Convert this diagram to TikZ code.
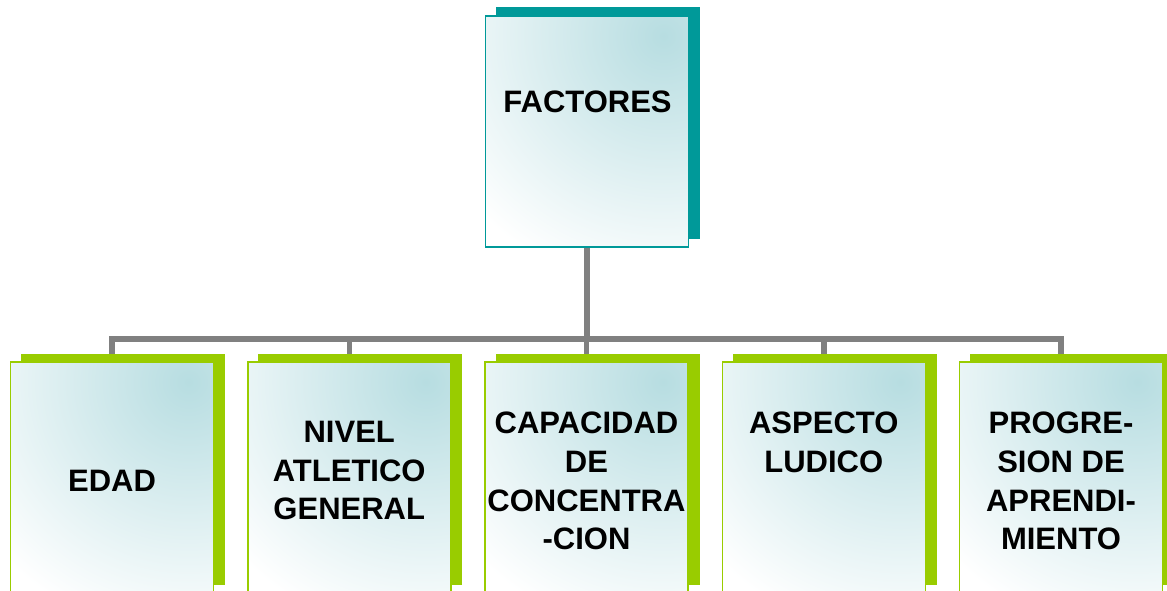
\documentclass[tikz,border=0pt]{standalone}
\usepackage{fontspec}
\setmainfont{Liberation Sans}
\usetikzlibrary{backgrounds}
\definecolor{grn}{RGB}{153,204,0}
\definecolor{tealD}{RGB}{0,153,153}
\definecolor{tealL}{RGB}{183,221,225}
\definecolor{conngray}{RGB}{128,128,128}
\tikzset{
  shadowbox/.style={rectangle, inner sep=0pt, minimum width=204pt, fill=#1},
  frontbox/.style={rectangle, inner sep=0pt, minimum width=203pt, draw=#1, line width=1.5pt,
    fill=white, path picture={
      \shade[inner color=tealL, outer color=white]
        ([xshift=-25pt,yshift=-20pt]path picture bounding box.north east) circle (255pt);}},
  boxtext/.style={inner sep=0pt, anchor=north, align=center,
    font=\fontsize{31}{38.7}\selectfont\bfseries},
  conn/.style={draw=conngray, line width=5.5pt}
}
\begin{document}
\begin{tikzpicture}[x=1pt,y=-1pt]
\useasboundingbox (0,0) rectangle (1167,590);
% top box
\node[shadowbox=tealD, minimum height=232pt] (s0) at (598,123) {};
\node[frontbox=tealD, minimum height=231pt] (top) at (587,131.5) {};
\node[boxtext] (t0) at (587.5,91) {FACTORES};
% bottom boxes
\foreach \i/\x in {1/112,2/349.25,3/586.5,4/823.75,5/1061}{
  \node[shadowbox=grn, minimum height=231pt] (s\i) at (\x+11,469.5) {};
  \node[frontbox=grn, minimum height=238pt] (b\i) at (\x,481) {};
}
\node[boxtext] (t1) at (b1.center |- 0,470) {EDAD};
\node[boxtext] (t2) at (b2.center |- 0,421) {NIVEL\\ATLETICO\\GENERAL};
\node[boxtext] (t3) at (b3.center |- 0,412) {CAPACIDAD\\DE\\CONCENTRA\\-CION};
\node[boxtext] (t4) at (b4.center |- 0,412) {ASPECTO\\LUDICO};
\node[boxtext] (t5) at (b5.center |- 0,412) {PROGRE-\\SION DE\\APRENDI-\\MIENTO};
\coordinate (bus) at (0,339);
\begin{pgfonlayer}{background}
\foreach \i in {1,...,5}{
  \draw[conn] (top.south) -- (top.south |- bus) -| (b\i.north);
}
\end{pgfonlayer}
\end{tikzpicture}
\end{document}
